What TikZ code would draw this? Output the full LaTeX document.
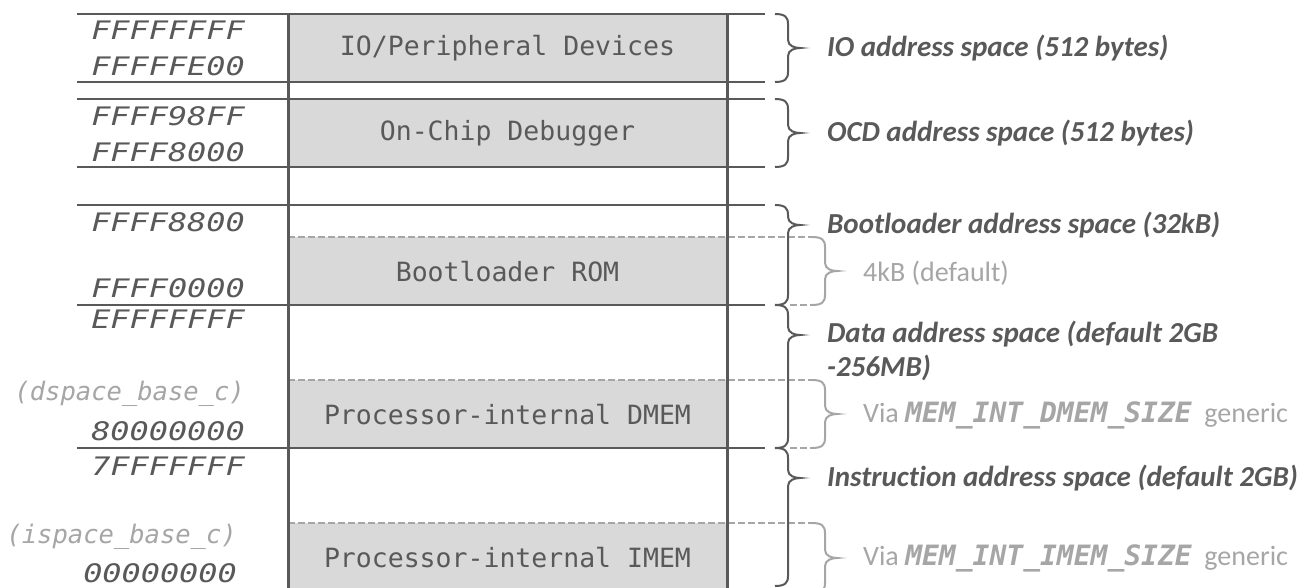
\documentclass[tikz,border=0pt]{standalone}
\usepackage{fontspec}
\usepackage{graphicx}
\setmainfont{Carlito}[Ligatures=NoCommon]
\newfontfamily\monofont{DejaVu Sans Mono}
\definecolor{dk}{HTML}{595959}
\definecolor{lt}{HTML}{A6A6A6}
\definecolor{fillg}{HTML}{D9D9D9}
\tikzset{
 hline/.style={draw=dk, line width=2pt},
 vline/.style={draw=dk, line width=3pt},
 dline/.style={draw=lt, line width=2pt, dash pattern=on 7pt off 3pt},
 region/.style={fill=fillg},
 boxtext/.style={text=dk, inner sep=0pt, font=\monofont\fontsize{26.5}{30}\selectfont},
 addr/.style={text=dk, anchor=east, inner sep=0pt, font=\monofont\itshape\fontsize{25.5}{30}\selectfont},
 base/.style={text=lt, anchor=east, inner sep=0pt, font=\monofont\itshape\fontsize{25.5}{30}\selectfont},
 info/.style={text=dk, anchor=west, inner sep=0pt, align=left, font=\bfseries\itshape\fontsize{29}{34}\selectfont},
 note/.style={text=lt, anchor=west, inner sep=0pt, font=\fontsize{28}{34}\selectfont},
 dbrace/.style={draw=dk, line width=2pt},
 gbrace/.style={draw=lt, line width=2pt},
}
\newcommand{\membrace}[5]{%
 \draw[#1] (#2,#3) .. controls ({#2+10},#3) and ({#2+13},{#3+3}) .. ({#2+13},{#3+10})
  -- ({#2+13},{#4-8}) .. controls ({#2+13},{#4-2}) and ({#2+20},#4) .. ({#2+25},#4)
  .. controls ({#2+20},#4) and ({#2+13},{#4+2}) .. ({#2+13},{#4+8})
  -- ({#2+13},{#5-10}) .. controls ({#2+13},{#5-3}) and ({#2+10},#5) .. (#2,#5);}
\newcommand{\addrtxt}[1]{\scalebox{1.25}[1]{#1}}
\begin{document}
\begin{tikzpicture}[x=1pt,y=-1pt]
\useasboundingbox[fill=white] (0,0) rectangle (1315,588);
% filled regions
\fill[region] (288,14) rectangle (727,82);
\fill[region] (288,99) rectangle (727,167);
\fill[region] (288,237) rectangle (727,305);
\fill[region] (288,380) rectangle (727,448);
\fill[region] (288,523) rectangle (727,600);
% dashed region borders
\draw[dline] (288,237) -- (812,237);
\draw[dline] (288,380) -- (812,380);
\draw[dline] (288,523) -- (812,523);
\draw[dline] (790,305) -- (812,305);
\draw[dline] (790,448) -- (812,448);
% solid boundaries
\foreach \yy in {14,82,99,167,205,305,448} \draw[hline] (77,\yy) -- (765,\yy);
\draw[vline] (288,14) -- (288,600);
\draw[vline] (727,14) -- (727,600);
% braces
\membrace{dbrace}{775}{14}{48}{82}
\membrace{dbrace}{775}{99}{133}{167}
\membrace{dbrace}{775}{205}{225}{305}
\membrace{dbrace}{775}{305}{335}{448}
\membrace{dbrace}{775}{448}{478}{586}
\membrace{gbrace}{812}{237}{271}{305}
\membrace{gbrace}{812}{380}{414}{448}
\membrace{gbrace}{812}{523}{558}{593}
% box texts
\node[boxtext] (io) at (507.5,48) {IO/Peripheral Devices};
\node[boxtext] (ocd) at (507.5,133) {On-Chip Debugger};
\node[boxtext] (boot) at (507.5,272) {Bootloader ROM};
\node[boxtext] (dmem) at (507.5,415) {Processor-internal DMEM};
\node[boxtext] (imem) at (507.5,558) {Processor-internal IMEM};
% addresses
\node[addr] (a1) at (245,30) {\addrtxt{FFFFFFFF}};
\node[addr] (a2) at (245,66) {\addrtxt{FFFFFE00}};
\node[addr] (a3) at (245,116) {\addrtxt{FFFF98FF}};
\node[addr] (a4) at (245,152) {\addrtxt{FFFF8000}};
\node[addr] (a5) at (245,222) {\addrtxt{FFFF8800}};
\node[addr] (a6) at (245,288) {\addrtxt{FFFF0000}};
\node[addr] (a7) at (245,319) {\addrtxt{EFFFFFFF}};
\node[base] (b1) at (245,394) {(dspace\_base\_c)};
\node[addr] (a8) at (245,431) {\addrtxt{80000000}};
\node[addr] (a9) at (245,466) {\addrtxt{7FFFFFFF}};
\node[base] (b2) at (237,537) {(ispace\_base\_c)};
\node[addr] (a10) at (237,573) {\addrtxt{00000000}};
% descriptions
\node[info] (t1) at (827,48) {IO address space (512 bytes)};
\node[info] (t2) at (827,133) {OCD address space (512 bytes)};
\node[info] (t3) at (827,225) {Bootloader address space (32kB)};
\node[note] (t4) at (863,273) {4kB (default)};
\node[info] (t5) at (827,351) {Data address space (default 2GB\\-256MB)};
\node[note] (t6) at (863,415) {Via {\monofont\bfseries\itshape MEM\_INT\_DMEM\_SIZE}\ \ generic};
\node[info] (t7) at (827,478) {Instruction address space (default 2GB)};
\node[note] (t8) at (863,558) {Via {\monofont\bfseries\itshape MEM\_INT\_IMEM\_SIZE}\ \ generic};
\end{tikzpicture}
\end{document}
